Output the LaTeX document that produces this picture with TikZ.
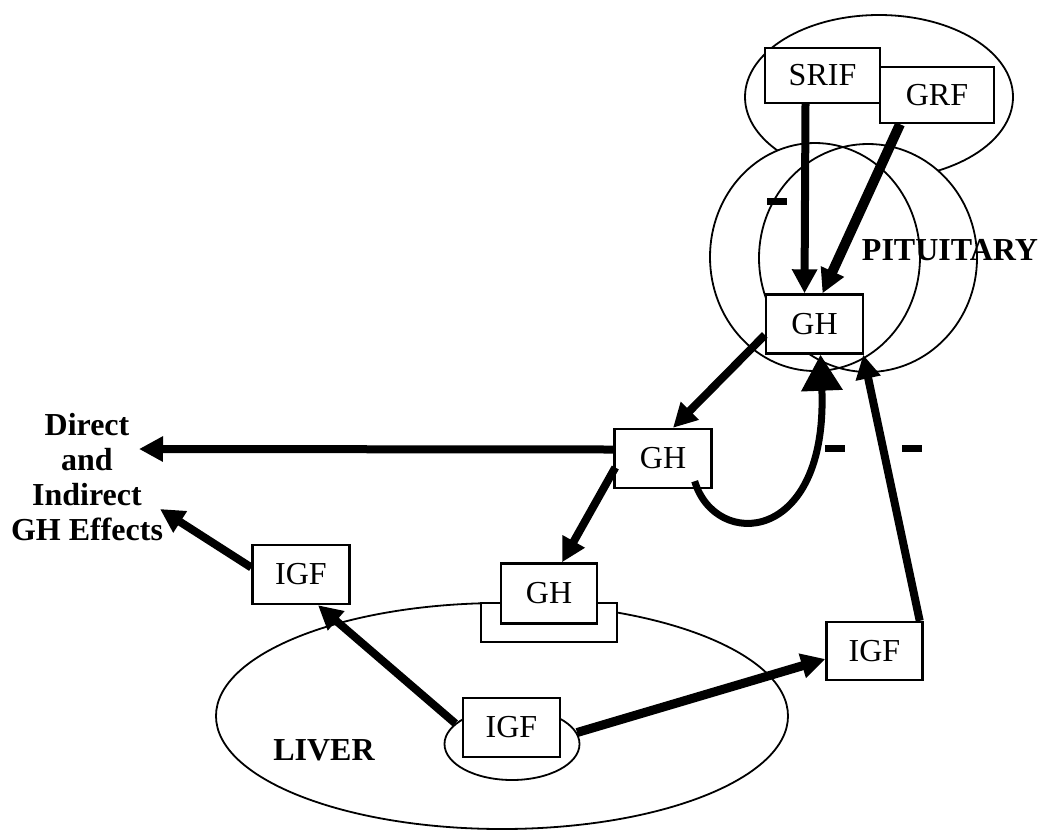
\documentclass[tikz,border=0pt]{standalone}
\usepackage{fontspec}
\setmainfont{Liberation Serif}
\usetikzlibrary{arrows.meta, shapes.geometric, calc}

\begin{document}
\begin{tikzpicture}[x=1pt, y=-1pt, >={Triangle[length=24pt, width=24pt]},
    box/.style={draw, line width=2.4pt, fill=white, inner sep=0pt, minimum width=97pt, minimum height=59pt, font=\fontsize{32}{36}\selectfont},
    organ/.style={draw, line width=1.8pt},
    flow/.style={->, line width=8pt},
    bigtip/.style={-{Triangle[length=36pt, width=40pt]}, line width=7pt},
    tag/.style={font=\fontsize{32}{35}\selectfont\bfseries, align=center, inner sep=0pt},
    minus/.style={inner sep=0pt}]
      \useasboundingbox (0,0) rectangle (1047,831);
      \draw[organ] (879,97) ellipse [x radius=134, y radius=82];
      \fill[white] (815,257) ellipse [x radius=105, y radius=114] (868,258) ellipse [x radius=109, y radius=114];
      \draw[organ] (815,257) ellipse [x radius=105, y radius=114];
      \draw[organ] (868,258) ellipse [x radius=109, y radius=114];
      \draw[organ] (502,716) ellipse [x radius=286, y radius=113];
      \node[box, minimum width=115pt, minimum height=55pt] (srif) at (822.5,75.5) {SRIF};
      \node[box, minimum width=114pt, minimum height=56pt] (grf) at (937,95) {GRF};
      \node[box] (ghA) at (814.5,324) {GH};
      \node[box] (ghB) at (663,458.5) {GH};
      \node[box, minimum width=136pt, minimum height=39pt] (recep) at (549,622.5) {};
      \node[box, minimum width=96pt, minimum height=60pt] (ghC) at (549,593.5) {GH};
      \node[box] (igfL) at (301,574.5) {IGF};
      \node[organ, ellipse, minimum width=135pt, minimum height=72pt, inner sep=0pt] (core) at (512,744) {};
      \node[box] (igfM) at (511.5,727.5) {IGF};
      \node[box, minimum width=96pt, minimum height=58pt] (igfR) at (874.5,651) {IGF};
      \node[tag, anchor=base] (pit) at (950,260) {PITUITARY};
      \node[tag, anchor=base] (liver) at (324,760) {LIVER};
      \node[tag] (effects) at (87,477) {Direct\\and\\Indirect\\GH Effects};
      \node[minus] (minusA) at (777,201) {\rule{20pt}{7pt}};
      \node[minus] (minusB) at (835,448) {\rule{20pt}{7pt}};
      \node[minus] (minusC) at (912,448) {\rule{20pt}{7pt}};
      \coordinate (toDirect) at (139,449);
      \coordinate (toEffects) at (160,509);
      \draw[flow] ($(srif.south)+(-17,0)$) -- ($(ghA.north)+(-10,0)$);
      \draw[flow, line width=10pt] ($(grf.south)+(-37,0)$) -- ($(ghA.north)+(8,0)$);
      \draw[flow] ($(ghA.west)+(0,11)$) -- ($(ghB.north)+(10,0)$);
      \draw[flow] ($(ghB.west)+(0,-9)$) -- (toDirect);
      \draw[flow] ($(ghB.west)+(2,9)$) -- ($(ghC.north)+(13,0)$);
      \draw[bigtip] ($(ghB.south east)+(-18,-8)$) .. controls (715,550) and (828,545) .. ($(ghA.south)+(6,0)$);
      \draw[flow] ($(igfL.west)+(0,-7)$) -- (toEffects);
      \draw[flow] (core.160) -- ($(igfL.south)+(17,0)$);
      \draw[flow, line width=9pt] (core.10) -- ($(igfR.west)+(0,8)$);
      \draw[flow] ($(igfR.north east)+(-4,0)$) -- ($(ghA.south east)+(-1,0)$);
\end{tikzpicture}
\end{document}
